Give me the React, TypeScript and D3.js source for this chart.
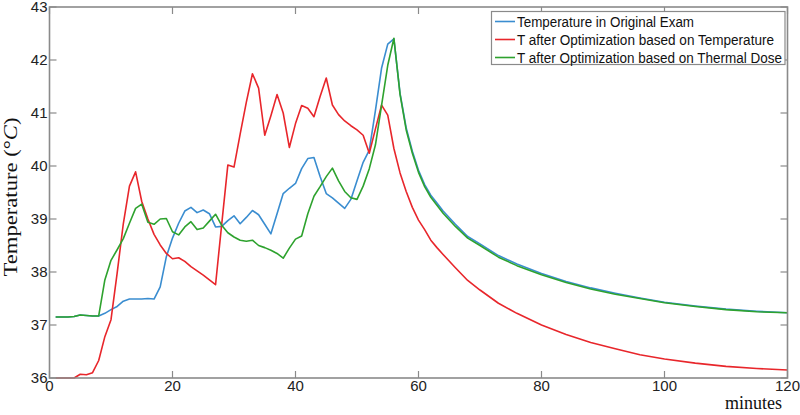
import React from 'react';
import * as d3 from 'd3';

// time axis (minutes)
const minutes = [
  1, 2, 3, 4, 5, 6, 7, 8, 9, 10,
  11, 12, 13, 14, 15, 16, 17, 18, 19, 20,
  21, 22, 23, 24, 25, 26, 27, 28, 29, 30,
  31, 32, 33, 34, 35, 36, 37, 38, 39, 40,
  41, 42, 43, 44, 45, 46, 47, 48, 49, 50,
  51, 52, 53, 54, 55, 56, 57, 58, 59, 60,
  61, 62, 63, 64,
  66, 68, 70, 73, 76, 80, 84, 88, 92, 96, 100, 105, 110, 115, 120,
];

const originalExam = [
  37.15, 37.15, 37.15, 37.16, 37.19, 37.18, 37.17, 37.17, 37.22, 37.29,
  37.35, 37.45, 37.49, 37.49, 37.49, 37.50, 37.49, 37.72, 38.29, 38.64,
  38.92, 39.15, 39.22, 39.12, 39.17, 39.10, 38.85, 38.86, 38.97, 39.06,
  38.91, 39.03, 39.16, 39.08, 38.90, 38.72, 39.10, 39.48, 39.58, 39.67,
  39.95, 40.14, 40.16, 39.80, 39.48, 39.40, 39.30, 39.20, 39.37, 39.72,
  40.07, 40.30, 41.05, 41.85, 42.30, 42.40, 41.37, 40.72, 40.28, 39.92,
  39.65, 39.45, 39.30, 39.15,
  38.90, 38.67, 38.53, 38.31, 38.15, 37.97, 37.82, 37.70, 37.60, 37.51, 37.43, 37.36, 37.30, 37.26, 37.23,
];

const optTemperature = [
  36.00, 36.00, 36.00, 36.00, 36.07, 36.06, 36.10, 36.33, 36.78, 37.10,
  37.98, 38.91, 39.62, 39.89, 39.33, 39.00, 38.71, 38.51, 38.35, 38.25,
  38.27, 38.20, 38.10, 38.02, 37.94, 37.85, 37.76, 38.90, 40.02, 39.98,
  40.60, 41.20, 41.74, 41.47, 40.58, 40.95, 41.35, 41.00, 40.35, 40.80,
  41.14, 41.09, 40.93, 41.31, 41.66, 41.15, 40.97, 40.85, 40.76, 40.68,
  40.58, 40.24, 40.70, 41.15, 40.96, 40.33, 39.87, 39.52, 39.22, 38.98,
  38.80, 38.60, 38.46, 38.33,
  38.08, 37.84, 37.66, 37.41, 37.22, 37.00, 36.82, 36.67, 36.55, 36.44, 36.36, 36.28, 36.22, 36.18, 36.15,
];

const optThermalDose = [
  37.15, 37.15, 37.15, 37.16, 37.19, 37.18, 37.17, 37.17, 37.85, 38.22,
  38.42, 38.63, 38.92, 39.20, 39.28, 38.94, 38.90, 39.00, 39.01, 38.76,
  38.70, 38.85, 38.95, 38.80, 38.83, 38.96, 39.09, 38.88, 38.74, 38.66,
  38.60, 38.58, 38.60, 38.50, 38.46, 38.41, 38.35, 38.26, 38.45, 38.62,
  38.68, 39.10, 39.43, 39.61, 39.80, 39.96, 39.72, 39.52, 39.40, 39.37,
  39.62, 39.95, 40.40, 41.15, 41.90, 42.41, 41.35, 40.68, 40.24, 39.88,
  39.61, 39.41, 39.26, 39.11,
  38.86, 38.64, 38.50, 38.28, 38.12, 37.95, 37.80, 37.68, 37.58, 37.50, 37.42, 37.35, 37.29, 37.25, 37.23,
];

const xTicks = [0, 20, 40, 60, 80, 100, 120];
const yTicks = [36, 37, 38, 39, 40, 41, 42, 43];

const seriesNames = [
  'Temperature in Original Exam',
  'T after Optimization based on Temperature',
  'T after Optimization based on Thermal Dose',
];
const seriesColors = ['#3a8dd0', '#e8262b', '#2ea22e'];
const seriesData = [originalExam, optTemperature, optThermalDose];
const legendTextLengths = [177, 257, 265];

export default function App() {
  const W = 800;
  const H = 415;
  const left = 49.5, right = 787.5, top = 7, bottom = 378;
  const x = d3.scaleLinear().domain([0, 120]).range([left, right]);
  const y = d3.scaleLinear().domain([36, 43]).range([bottom, top]);
  const line = d3
    .line<number>()
    .x((_, i) => x(minutes[i]))
    .y((d) => y(d));

  const axisColor = '#8a8a8a';
  const tickLen = 7;
  const sans = "'Liberation Sans', Arial, sans-serif";
  const serif = "'Liberation Serif', 'Times New Roman', serif";

  const legendX = 491.5, legendY = 11.5, legendW = 293.5, legendH = 53;
  const legendRows = [21.5, 39.5, 57.5];

  return (
    <svg
      width={W}
      height={H}
      viewBox={`0 0 ${W} ${H}`}
      style={{ position: 'absolute', left: 0, top: 0, background: '#fff' }}
    >
      <rect x={0} y={0} width={W} height={H} fill="#fff" />
      {/* series */}
      {seriesData.map((d, i) => (
        <path
          key={i}
          d={line(d) || ''}
          fill="none"
          stroke={seriesColors[i]}
          strokeWidth={1.6}
          strokeLinejoin="round"
        />
      ))}
      {/* frame */}
      <rect
        x={left}
        y={top}
        width={right - left}
        height={bottom - top}
        fill="none"
        stroke={axisColor}
        strokeWidth={1.6}
      />
      {/* x ticks */}
      {xTicks.map((t) => (
        <g key={'x' + t}>
          <line x1={x(t)} x2={x(t)} y1={bottom} y2={bottom - tickLen} stroke={axisColor} strokeWidth={1.2} />
          <line x1={x(t)} x2={x(t)} y1={top} y2={top + tickLen} stroke={axisColor} strokeWidth={1.2} />
          <text
            x={x(t)}
            y={391}
            textAnchor="middle"
            fontFamily={sans}
            fontSize={15}
            fill="#222"
          >
            {t}
          </text>
        </g>
      ))}
      {/* y ticks */}
      {yTicks.map((t) => (
        <g key={'y' + t}>
          <line x1={left} x2={left + tickLen} y1={y(t)} y2={y(t)} stroke={axisColor} strokeWidth={1.2} />
          <line x1={right} x2={right - tickLen} y1={y(t)} y2={y(t)} stroke={axisColor} strokeWidth={1.2} />
          <text
            x={47.5}
            y={y(t) + 5.3}
            textAnchor="end"
            fontFamily={sans}
            fontSize={15}
            fill="#222"
          >
            {t}
          </text>
        </g>
      ))}
      {/* axis labels */}
      <text x={782} y={409} textAnchor="end" fontFamily={serif} fontSize={18} fill="#111">
        minutes
      </text>
      <text
        transform={`translate(17,197) rotate(-90)`}
        textAnchor="middle"
        fontFamily={serif}
        fontSize={18}
        fill="#111"
        textLength={159}
        lengthAdjust="spacingAndGlyphs"
      >
        Temperature (°<tspan fontStyle="italic">C</tspan>)
      </text>
      {/* legend */}
      <rect
        x={legendX}
        y={legendY}
        width={legendW}
        height={legendH}
        fill="#fff"
        stroke={axisColor}
        strokeWidth={1.2}
      />
      {seriesNames.map((name, i) => (
        <g key={'lg' + i}>
          <line
            x1={495}
            x2={515}
            y1={legendRows[i]}
            y2={legendRows[i]}
            stroke={seriesColors[i]}
            strokeWidth={1.6}
          />
          <text
            x={517}
            y={legendRows[i] + 5.5}
            fontFamily={sans}
            fontSize={15.5}
            fill="#111"
            textLength={legendTextLengths[i]}
            lengthAdjust="spacingAndGlyphs"
          >
            {name}
          </text>
        </g>
      ))}
    </svg>
  );
}
